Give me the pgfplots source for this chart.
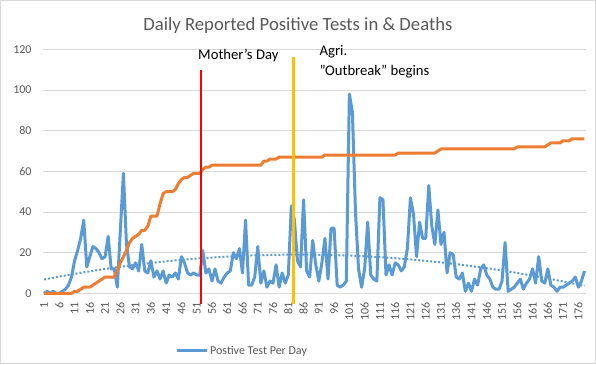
\documentclass[border=0pt]{standalone}
\usepackage{fontspec}
\setmainfont{Carlito}
\usepackage{pgfplots}
\pgfplotsset{compat=1.18}
\usepackage{pgfplotstable}
\definecolor{xblue}{HTML}{5B9BD5}
\definecolor{xorange}{HTML}{ED7D31}
\definecolor{xgold}{HTML}{FFC000}
\definecolor{xgrid}{HTML}{D9D9D9}
\definecolor{xtext}{HTML}{595959}

\pgfplotstableread{
day pos deaths
1 0 0
2 1 0
3 0 0
4 1 0
5 0 0
6 0 0
7 1 0
8 2 0
9 4 0
10 8 0
11 16 1
12 21 1
13 27 2
14 36 3
15 13 3
16 18 3
17 23 4
18 22 5
19 20 6
20 17 7
21 18 8
22 28 8
23 12 8
24 12 8
25 3 11
26 31 15
27 59 18
28 24 21
29 13 25
30 12 27
31 15 28
32 11 29
33 24 31
34 11 31
35 10 33
36 16 38
37 8 38
38 11 38
39 7 44
40 11 49
41 5 50
42 9 50
43 8 50
44 10 51
45 7 54
46 18 56
47 15 57
48 10 57
49 9 58
50 10 59
51 9 59
52 9 59
53 21 61
54 10 62
55 12 62
56 6 63
57 12 63
58 6 63
59 5 63
60 8 63
61 10 63
62 11 63
63 20 63
64 17 63
65 22 63
66 10 63
67 36 63
68 4 63
69 4 63
70 8 63
71 23 63
72 5 63
73 11 65
74 3 65
75 6 66
76 5 66
77 14 66
78 3 67
79 10 67
80 5 67
81 9 67
82 43 67
83 36 67
84 16 67
85 13 67
86 46 67
87 11 67
88 8 67
89 26 67
90 14 67
91 6 67
92 15 67
93 27 68
94 7 68
95 32 68
96 32 68
97 4 68
98 3 68
99 4 68
100 6 68
101 98 68
102 89 68
103 40 68
104 12 68
105 3 68
106 12 68
107 35 68
108 9 68
109 7 68
110 6 68
111 47 68
112 46 68
113 9 68
114 14 68
115 9 68
116 15 68
117 14 69
118 11 69
119 13 69
120 22 69
121 47 69
122 39 69
123 18 69
124 35 69
125 27 69
126 27 69
127 53 69
128 33 69
129 24 69
130 41 70
131 24 71
132 30 71
133 10 71
134 20 71
135 19 71
136 8 71
137 7 71
138 10 71
139 1 71
140 5 71
141 1 71
142 7 71
143 4 71
144 12 71
145 14 71
146 9 71
147 7 71
148 3 71
149 2 71
150 2 71
151 6 71
152 25 71
153 1 71
154 2 71
155 3 71
156 5 72
157 7 72
158 2 72
159 5 72
160 7 72
161 12 72
162 5 72
163 18 72
164 6 72
165 5 72
166 12 73
167 4 74
168 3 74
169 1 74
170 3 74
171 3 75
172 4 75
173 5 75
174 6 76
175 8 76
176 3 76
177 6 76
178 11 76
}\data

\pgfplotstableread{
day trend
1 6.80
10 9.30
20 11.74
30 13.83
40 15.56
50 16.95
60 17.98
70 18.66
80 18.99
90 18.97
100 18.60
110 17.87
120 16.79
130 15.36
140 13.58
150 11.45
160 8.96
170 6.13
178 3.60
}\trend

\begin{document}
\begin{tikzpicture}
\useasboundingbox (-42.5pt,-70.7pt) rectangle (553.5pt,293.3pt);
\fill[white] (-42.5pt,-70.7pt) rectangle (553.5pt,293.3pt);
\begin{axis}[
  at={(0pt,0pt)}, anchor=south west,
  scale only axis, width=543.5pt, height=244pt,
  xmin=0.5, xmax=178.5, ymin=0, ymax=120,
  xtick={1,6,...,176}, ytick={0,20,...,120},
  ymajorgrids, grid style={xgrid, line width=0.75pt},
  axis line style={draw=none},
  major tick length=0pt,
  tick label style={font=\fontsize{12}{14}\selectfont, text=xtext},
  /pgf/number format/assume math mode=true,
  xticklabel style={rotate=90, anchor=east, inner sep=0pt},
  xticklabel shift=9pt,
  yticklabel style={anchor=east, inner sep=0pt},
  yticklabel shift=10.8pt,
  clip=false,
  legend style={at={(axis description cs:0.2438,-0.236)}, anchor=west,
    draw=none, fill=none, inner sep=0pt,
    font=\fontsize{12}{14}\selectfont, text=xtext},
  legend image code/.code={\draw[#1] (0pt,0pt) -- (30pt,0pt);},
]
\addplot[xblue, line width=3pt, line join=round] table[x=day, y=pos] {\data};
\addlegendentry{Postive Test Per Day}
\addplot[xblue, line width=2pt, dash pattern=on 2pt off 2pt, smooth, forget plot] table[x=day, y=trend] {\trend};
\addplot[xorange, line width=3pt, line join=round, forget plot] table[x=day, y=deaths] {\data};
\addplot[red, line width=2pt, forget plot] coordinates {(52.3,-5.2) (52.3,109.8)};
\addplot[xgold, line width=3pt, forget plot] coordinates {(82.7,-5.2) (82.7,116.2)};
\node[anchor=base west, font=\fontsize{14.67}{17}\selectfont] at (axis cs:50.35,115.1) {Mother\symbol{39}s Day};
\node[anchor=base west, font=\fontsize{14.67}{17}\selectfont] at (axis cs:90.1,117) {Agri.};
\node[anchor=base west, font=\fontsize{14.67}{17}\selectfont] at (axis cs:90.1,107.2) {\symbol{34}Outbreak\symbol{34} begins};
\node[anchor=base, font=\fontsize{18.67}{22}\selectfont, text=xtext] at (axis description cs:0.470,1.079) {Daily Reported Positive Tests in \& Deaths};
\end{axis}
\draw[xgrid, line width=0.75pt] (-42.125pt,-70.325pt) rectangle (553.125pt,292.925pt);
\end{tikzpicture}
\end{document}
